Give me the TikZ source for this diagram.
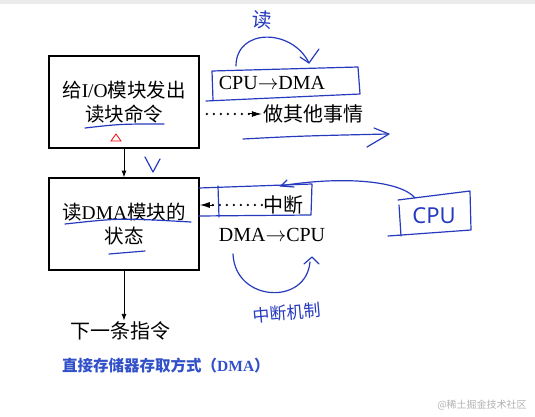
\documentclass[tikz,border=0pt]{standalone}
\usepackage{fontspec}
\setmainfont{Liberation Serif}
\newfontfamily\cjk{Noto Sans CJK SC}
\usepackage{xcolor}
\usetikzlibrary{arrows.meta,positioning}
\definecolor{inkblue}{RGB}{38,58,190}
\definecolor{titleblue}{RGB}{50,80,200}
\newcommand{\zh}[1]{{\cjk #1}}

\begin{document}
\begin{tikzpicture}[x=1pt,y=-1pt,>=Latex,
stepbox/.style={draw,line width=1.6pt,minimum width=150pt,minimum height=92pt,align=center,
  font=\fontsize{19.5}{24}\selectfont},
label/.style={inner sep=1pt,font=\fontsize{20}{22}\selectfont},
dots/.style={line width=2.6pt,line cap=round,dash pattern=on 0pt off 7pt},
ink/.style={draw=inkblue,line width=1.2pt,line cap=round,line join=round},
hand/.style={text=inkblue,inner sep=0pt,font=\cjk}]
\useasboundingbox (0,0) rectangle (535,417);
\fill[black!8] (0,0) rectangle (535,4);

% printed diagram
\node[stepbox] (b1) at (124,102) {\zh{给}I/O\zh{模块发出}\\\zh{读块命令}};
\node[stepbox] (b2) at (124,224) {\zh{读}DMA\zh{模块的}\\\zh{状态}};
\node[label] (nxt) at (120,331) {\zh{下一条指令}};
\node[label,anchor=west,text=titleblue,font=\fontsize{15.5}{17}\selectfont\bfseries] (ttl) at (61,366)
  {\zh{直接存储器存取方式（}DMA\zh{）}};
\node[label] (c2d) at (272,83) {CPU${\to}$DMA};
\node[label] (oth) at (313,114) {\zh{做其他事情}};
\node[label] (intr) at (283,205) {\zh{中断}};
\node[label] (d2c) at (272,235) {DMA${\to}$CPU};

\draw[->,thick] (b1) -- (b2);
\draw[->,thick] (b2) -- (b2 |- nxt.north);
\draw[dots,shorten <=7pt] (oth.west -| b1.east) -- (oth.west);
\draw[-{Latex[length=10pt,width=6pt]},line width=1pt] ([xshift=-14pt]oth.west) -- (oth.west);
\draw[dots,shorten >=12pt] (intr.west) -- (intr.west -| b2.east);
\draw[-{Latex[length=10pt,width=6pt]},line width=1pt] ([xshift=14pt]intr.west -| b2.east) -- (intr.west -| b2.east);

% blue pen notes
\draw[ink] (236,66) .. controls (236,28) and (292,28) .. (309,63);
\draw[ink] (300,57) -- (309,63) -- (319,49);
\draw[ink] (213,100) -- (212,71) -- (358,67) -- (360,94) -- (206,101);
\draw[ink] (85,128) .. controls (120,124) .. (164,124);
\draw[red,line width=0.8pt] (111,141) -- (116,134) -- (121,141) -- cycle;
\draw[ink] (243,139) .. controls (300,136) .. (388,134);
\draw[ink] (374,128) -- (389,134) -- (367,147);
\draw[ink] (145,157) .. controls (149,165) .. (153,172) -- (160,159);
\draw[ink] (199,188) -- (312,184) -- (311,215) -- (199,216);
\draw[ink] (218,186) -- (219,217);
\draw[ink] (280,186) .. controls (340,176) and (400,180) .. (415,198);
\draw[ink] (287,180) -- (281,186) -- (294,187);
\draw[ink] (398,200) -- (470,191) -- (471,230) -- (388,236);
\draw[ink] (399,205) -- (401,236);
\draw[ink] (65,224) .. controls (120,218) .. (191,222);
\draw[ink] (109,254) -- (145,251);
\draw[ink] (233,254) .. controls (235,302) and (306,306) .. (310,262);
\draw[ink] (304,264) -- (312,257) -- (319,264);
\node[hand,font=\cjk\fontsize{20}{20}\selectfont,rotate=-5] (rd) at (262,20) {读};
\node[hand,font=\fontspec{Noto Sans}\fontsize{22}{22}\selectfont] (cpu) at (434,216) {CPU};
\node[hand,font=\cjk\fontsize{17}{17}\selectfont,rotate=5] (mech) at (287,313) {中断机制};

\node[text=black!30,font=\cjk\fontsize{10}{10}\selectfont] (wm) at (482,405) {@稀土掘金技术社区};
\end{tikzpicture}
\end{document}
